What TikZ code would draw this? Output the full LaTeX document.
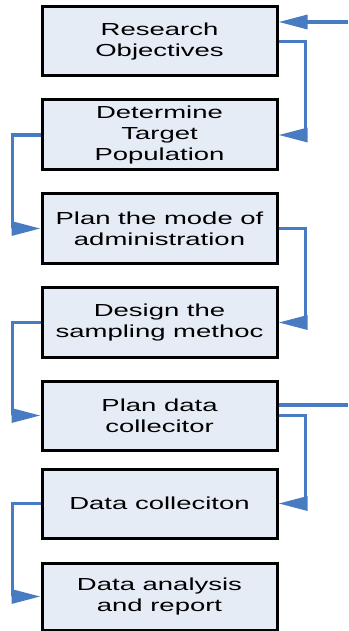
\documentclass[tikz,border=0pt]{standalone}
\usepackage{fontspec}
\setmainfont[FakeStretch=1.58]{Liberation Sans}
\usetikzlibrary{arrows.meta}
\definecolor{boxfill}{RGB}{230,236,246}
\definecolor{conn}{RGB}{72,124,194}
\begin{document}
\begin{tikzpicture}[x=1pt,y=-1pt,
  stepbox/.style={draw=black,line width=3pt,fill=boxfill,minimum width=235pt,
    inner sep=0pt,align=center,font=\fontsize{17.4}{21}\selectfont},
  conline/.style={draw=conn,line width=3.2pt},
  arr/.style={conline,-{Triangle[length=29pt,width=14pt]}}]
\useasboundingbox (0,0) rectangle (348,631);
\node[stepbox,minimum height=69pt] (b1) at (159.5,41.5) {Research\\Objectives};
\node[stepbox,minimum height=70pt] (b2) at (159.5,135) {Determine\\Target\\Population};
\node[stepbox,minimum height=70pt] (b3) at (159.5,228.5) {Plan the mode of\\administration};
\node[stepbox,minimum height=70pt] (b4) at (159.5,322.5) {Design the\\sampling methoc};
\node[stepbox,minimum height=69pt] (b5) at (159.5,415.5) {Plan data\\collecitor};
\node[stepbox,minimum height=69pt] (b6) at (159.5,503.5) {Data colleciton};
\node[stepbox,minimum height=67pt] (b7) at (159.5,596.5) {Data analysis\\and report};
\coordinate (in) at (348,22);
\coordinate (out) at (348,405);
\draw[arr] (in) -- (in -| b1.east);
\draw[arr] (b1.east) -- ++(27,0) |- (b2.east);
\draw[arr] (b2.west) -- ++(-28,0) |- (b3.west);
\draw[arr] (b3.east) -- ++(27,0) |- (b4.east);
\draw[arr] (b4.west) -- ++(-28,0) |- (b5.west);
\draw[conline] (out -| b5.east) -- (out);
\draw[arr] (b5.east) -- ++(27,0) |- (b6.east);
\draw[arr] (b6.west) -- ++(-28,0) |- (b7.west);
\end{tikzpicture}
\end{document}
